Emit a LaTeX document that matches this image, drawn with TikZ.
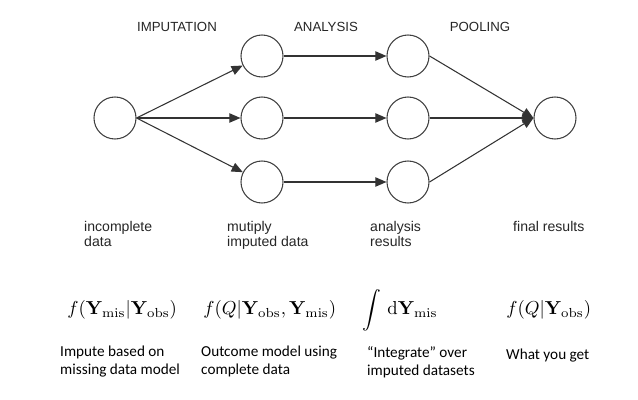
\documentclass[tikz,border=0pt]{standalone}
\usepackage[no-math]{fontspec}
\newfontfamily\headfont{Liberation Sans}
\newfontfamily\notefont{Carlito}
\usetikzlibrary{arrows.meta}

\tikzset{
    stage circle/.style={
        draw=black!75,line width=.9pt,circle,
        minimum size=1.26cm,inner sep=0pt
    },
    flow/.style={
        draw=black!80,line width=.9pt,
        -{Triangle[length=9.5pt,width=8pt]}
    },
    stage head/.style={
        anchor=base,inner sep=0pt,text=black!85,
        font=\headfont\fontsize{11.3}{13}\selectfont
    },
    stage label/.style={
        anchor=north west,inner sep=0pt,align=left,text=black!85,
        font=\headfont\fontsize{12}{12.75}\selectfont
    },
    formula/.style={anchor=base west,inner sep=0pt,scale=1.6},
    note/.style={
        anchor=north west,inner sep=0pt,align=left,
        font=\notefont\fontsize{13}{15.3}\selectfont
    }
}

\begin{document}
\begin{tikzpicture}[x=.03cm,y=-.03cm]
        \useasboundingbox (0,0) rectangle (638,400);
        \node[stage circle] (inc) at (115,118) {};
        \foreach \j/\y in {1/56,2/118,3/182} {
            \node[stage circle] (imp\j) at (262,\y) {};
            \node[stage circle] (ana\j) at (408,\y) {};
        }
        \node[stage circle] (fin) at (555,118) {};
        \foreach \j in {1,2,3} {
            \draw[flow] (inc.east) -- (imp\j);
            \draw[flow] (imp\j) -- (ana\j);
            \draw[flow] (ana\j.east) -- (fin.west);
        }
        \node[stage head] (hImp) at (177,32) {IMPUTATION};
        \node[stage head] (hAna) at (326,32) {ANALYSIS};
        \node[stage head] (hPool) at (480,32) {POOLING};
        \node[stage label] (lInc) at (84,221) {incomplete\\data};
        \node[stage label] (lImp) at (227,221) {mutiply\\imputed data};
        \node[stage label] (lAna) at (370,221) {analysis\\results};
        \node[stage label] (lFin) at (513,221) {final results};
        \node[formula] (fImp) at (67,315) {$f(\mathbf{Y}_{\mathrm{mis}}|\mathbf{Y}_{\mathrm{obs}})$};
        \node[formula] (fAna) at (203,315) {$f(Q|\mathbf{Y}_{\mathrm{obs}},\mathbf{Y}_{\mathrm{mis}})$};
        \node[formula] (fPool) at (362,315) {$\displaystyle\int\,\mathrm{d}\mathbf{Y}_{\mathrm{mis}}$};
        \node[formula] (fFin) at (506,315) {$f(Q|\mathbf{Y}_{\mathrm{obs}})$};
        \node[note] (nImp) at (60,346) {Impute based on\\missing data model};
        \node[note] (nAna) at (201,346) {Outcome model using\\complete data};
        \node[note] (nPool) at (367,346) {“Integrate” over\\imputed datasets};
        \node[note] (nFin) at (506,349) {What you get};
    \end{tikzpicture}
\end{document}
